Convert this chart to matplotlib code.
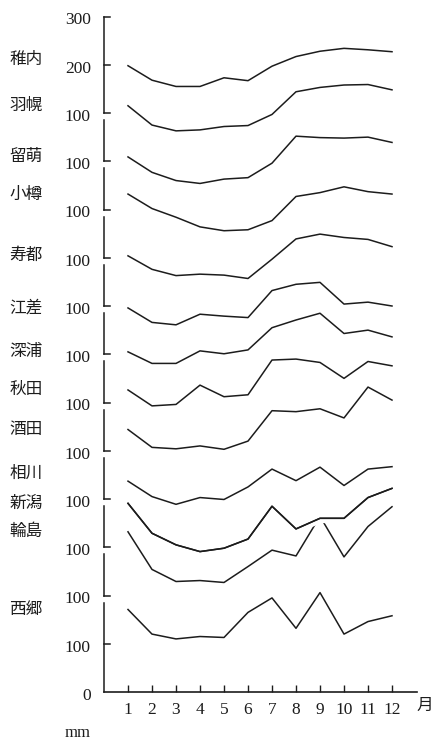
import matplotlib.pyplot as plt
import matplotlib.patheffects as pe

plt.rcParams['font.family'] = ['Liberation Serif', 'DejaVu Serif']

months = list(range(1, 13))
stations = ['稚内', '羽幌', '留萌', '小樽', '寿都', '江差', '深浦',
            '秋田', '酒田', '相川', '新潟', '輪島', '西郷']

# monthly precipitation, mm
wakkanai = [98, 68, 55, 55, 73, 67, 97, 117, 128, 134, 131, 127]
haboro = [115, 75, 63, 65, 72, 74, 97, 144, 153, 158, 159, 148]
rumoi = [109, 77, 60, 54, 63, 66, 96, 152, 149, 148, 150, 139]
otaru = [132, 102, 84, 64, 56, 58, 77, 127, 135, 147, 137, 132]
suttsu = [104, 76, 63, 66, 64, 57, 97, 139, 149, 142, 138, 123]
esashi = [96, 66, 61, 83, 79, 76, 132, 145, 149, 104, 108, 100]
fukaura = [105, 81, 81, 107, 101, 109, 155, 171, 185, 143, 150, 136]
akita = [126, 93, 96, 136, 112, 116, 188, 190, 183, 150, 185, 176]
sakata = [144, 107, 104, 110, 103, 120, 183, 181, 187, 168, 232, 205]
aikawa = [137, 105, 89, 103, 99, 125, 162, 138, 166, 128, 162, 167]
niigata = [191, 129, 105, 91, 98, 117, 185, 138, 160, 160, 203, 222]
wajima = [232, 154, 129, 131, 127, 160, 194, 182, 264, 180, 243, 284]
saigo = [171, 120, 110, 115, 113, 165, 195, 132, 206, 120, 146, 158]

series = [wakkanai, haboro, rumoi, otaru, suttsu, esashi, fukaura,
          akita, sakata, aikawa, niigata, wajima, saigo]

y_ticks = [100 * k for k in range(15)]
y_labels = ['0'] + ['100'] * 12 + ['200', '300']

# label nudges (mm) so names sit beside the curves
name_nudge = [12, 0, 0, 0, 0, 0, 0, 0, 0, 16, 0, 0, 0]

fig = plt.figure(figsize=(4.32, 7.42), dpi=100)
ax = fig.add_axes([104 / 432, 50 / 742, 313 / 432, 682 / 742])
ax.set_xlim(0, 313 / 24)
ax.set_ylim(0, 682 / 0.4825)

ink = '#1c1c1c'
for i, (name, vals) in enumerate(zip(stations, series)):
    off = (12 - i) * 100
    y = [v + off for v in vals]
    if name == '新潟':
        ax.plot(months, y, color=ink, lw=1.1, zorder=3,
                path_effects=[pe.withStroke(linewidth=7, foreground='white'), pe.Normal()])
    else:
        ax.plot(months, y, color=ink, lw=1.1, zorder=2)
    ax.text(-3.25, vals[0] + off + name_nudge[i], name, ha='center', va='center',
            fontsize=12, color=ink, family=['Noto Sans CJK JP'])

# broken left axis, one piece per station
gap = 15
tl = 0.27
pieces = [(0, 200 - gap)] + [(100 * k, 100 * (k + 1) - gap) for k in range(2, 12)] + [(1200, 1400)]
for lo, hi in pieces:
    ax.plot([0, 0], [lo, hi], color=ink, lw=1.1, clip_on=False)
for v in y_ticks[1:]:
    ax.plot([0, tl], [v, v], color=ink, lw=1.1, clip_on=False)
for v, lab in zip(y_ticks, y_labels):
    ax.text(-0.55, v - 8, lab, ha='right', va='center', fontsize=12.5, color=ink)

for s in ['top', 'right', 'left']:
    ax.spines[s].set_visible(False)
ax.spines['bottom'].set_linewidth(1.2)
ax.spines['bottom'].set_color(ink)
ax.set_yticks([])
ax.set_xticks(months)
ax.tick_params(axis='x', direction='in', length=5, width=1, pad=7,
               labelsize=12.5, colors=ink)

fig.text(425 / 432, 1 - 705 / 742, '月', ha='center', va='center', fontsize=12,
         color=ink, family=['Noto Sans CJK JP'])
fig.text(78 / 432, 1 - 733 / 742, 'mm', ha='center', va='center', fontsize=12, color=ink)

fig.savefig('out.png', dpi=100, facecolor='white')
